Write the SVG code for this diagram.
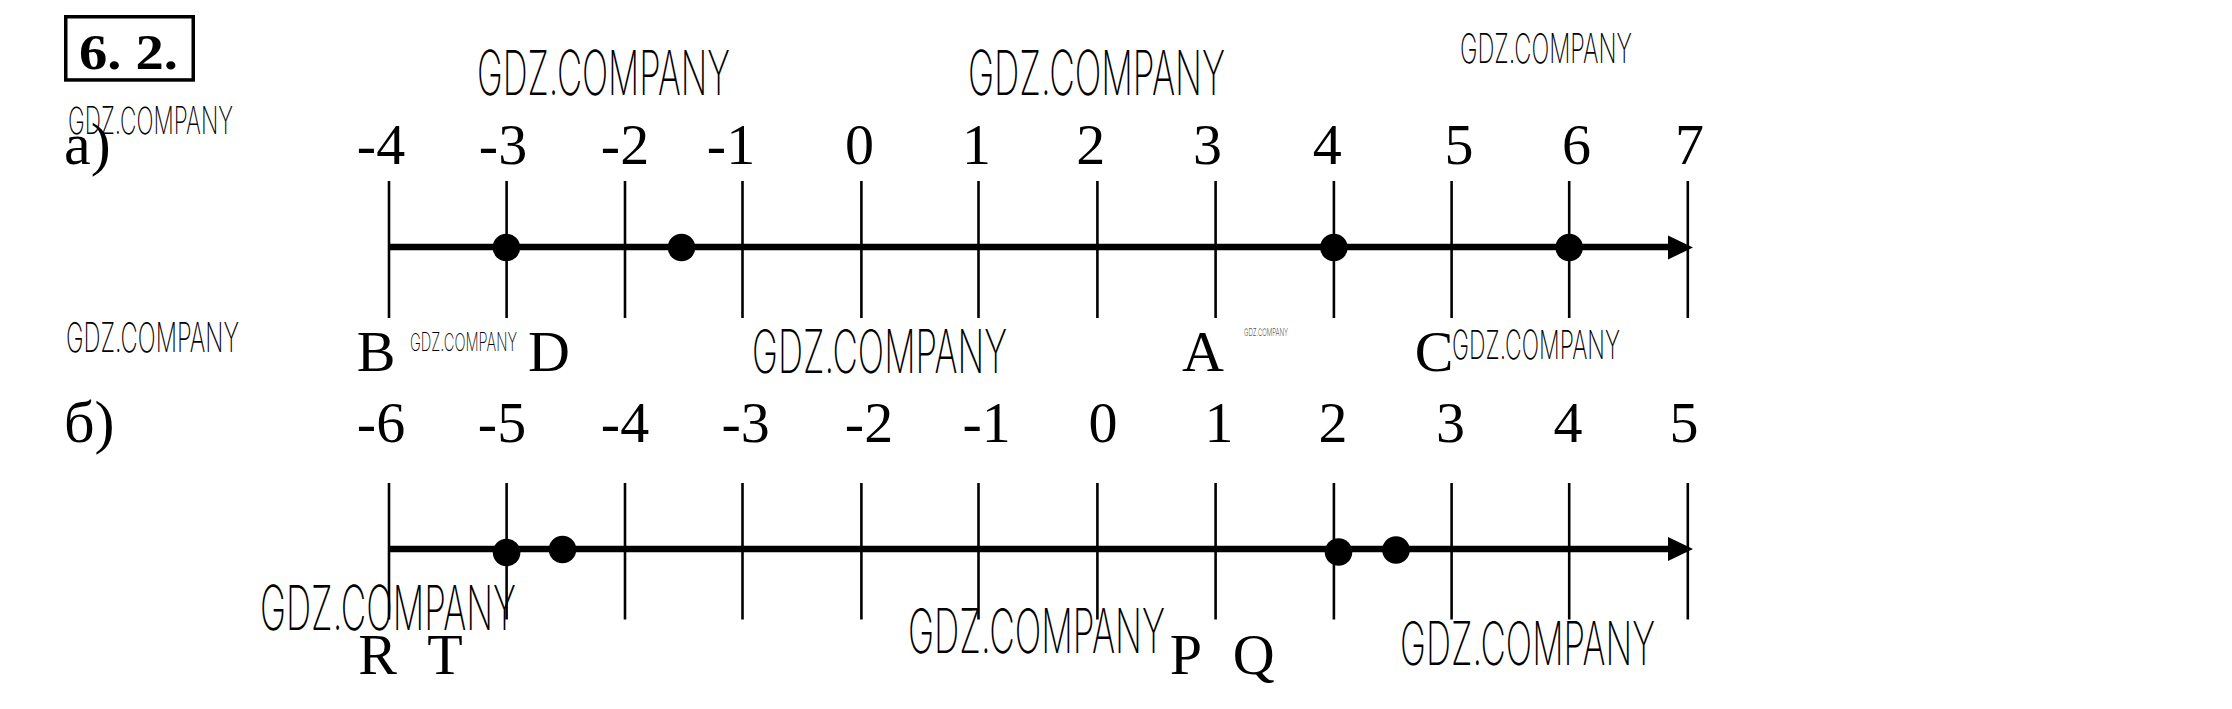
<svg xmlns="http://www.w3.org/2000/svg" width="2232" height="709" viewBox="0 0 2232 709">
<style>
.num{font-family:"Liberation Serif","Times New Roman",serif;font-size:58px;fill:#000;text-anchor:middle}
.lbl{font-family:"Liberation Serif","Times New Roman",serif;font-size:58px;fill:#000;text-anchor:middle}
.wm{font-family:"Inter","Lato","DejaVu Sans",sans-serif;font-weight:200;fill:#000}
.tick{stroke:#000;stroke-width:2.6}
.axis{stroke:#000;stroke-width:6.5}
.dot{fill:#000}
</style>
<rect width="2232" height="709" fill="#fff"/>

<g id="title">
<rect x="65.75" y="16.75" width="127.5" height="63.2" fill="none" stroke="#000" stroke-width="3.5"/>
<text x="79" y="68.5" font-family="Liberation Serif,serif" font-weight="bold" font-size="50" textLength="99" lengthAdjust="spacingAndGlyphs">6. 2.</text>
</g>

<g id="part-a-label"><text x="64" y="163.5" font-family="Liberation Serif,serif" font-size="60">а)</text></g>
<g id="part-b-label"><text x="64" y="442" font-family="Liberation Serif,serif" font-size="60">б)</text></g>

<g id="connectors">
<g id="axis-a">
<line class="axis" x1="389" y1="247" x2="1670" y2="247"/>
<polygon points="1668,235.5 1693,247.5 1668,259.5" fill="#000"/>
<line class="tick" x1="389" y1="181" x2="389" y2="318"/>
<line class="tick" x1="506.6" y1="181" x2="506.6" y2="318"/>
<line class="tick" x1="625" y1="181" x2="625" y2="318"/>
<line class="tick" x1="742.5" y1="181" x2="742.5" y2="318"/>
<line class="tick" x1="861.4" y1="181" x2="861.4" y2="318"/>
<line class="tick" x1="978.5" y1="181" x2="978.5" y2="318"/>
<line class="tick" x1="1097.4" y1="181" x2="1097.4" y2="318"/>
<line class="tick" x1="1215.6" y1="181" x2="1215.6" y2="318"/>
<line class="tick" x1="1333.9" y1="181" x2="1333.9" y2="318"/>
<line class="tick" x1="1451.6" y1="181" x2="1451.6" y2="318"/>
<line class="tick" x1="1569.2" y1="181" x2="1569.2" y2="318"/>
<line class="tick" x1="1687.8" y1="181" x2="1687.8" y2="318"/>
</g>
<g id="axis-b">
<line class="axis" x1="389" y1="549" x2="1670" y2="549"/>
<polygon points="1668,537 1693,549 1668,561" fill="#000"/>
<line class="tick" x1="389" y1="483" x2="389" y2="619.5"/>
<line class="tick" x1="506.6" y1="483" x2="506.6" y2="619.5"/>
<line class="tick" x1="625" y1="483" x2="625" y2="619.5"/>
<line class="tick" x1="742.5" y1="483" x2="742.5" y2="619.5"/>
<line class="tick" x1="861.4" y1="483" x2="861.4" y2="619.5"/>
<line class="tick" x1="978.5" y1="483" x2="978.5" y2="619.5"/>
<line class="tick" x1="1097.4" y1="483" x2="1097.4" y2="619.5"/>
<line class="tick" x1="1215.6" y1="483" x2="1215.6" y2="619.5"/>
<line class="tick" x1="1333.9" y1="483" x2="1333.9" y2="619.5"/>
<line class="tick" x1="1451.6" y1="483" x2="1451.6" y2="619.5"/>
<line class="tick" x1="1569.2" y1="483" x2="1569.2" y2="619.5"/>
<line class="tick" x1="1687.8" y1="483" x2="1687.8" y2="619.5"/>
</g>
</g>

<g id="numbers-a">
<text class="num" x="381" y="164">-4</text>
<text class="num" x="503" y="164">-3</text>
<text class="num" x="625" y="164">-2</text>
<text class="num" x="731" y="164">-1</text>
<text class="num" x="859.5" y="164">0</text>
<text class="num" x="976.5" y="164">1</text>
<text class="num" x="1090.7" y="164">2</text>
<text class="num" x="1207.5" y="164">3</text>
<text class="num" x="1327.3" y="164">4</text>
<text class="num" x="1459" y="164">5</text>
<text class="num" x="1576.4" y="164">6</text>
<text class="num" x="1689.5" y="164">7</text>
</g>
<g id="numbers-b">
<text class="num" x="381" y="442">-6</text>
<text class="num" x="502" y="442">-5</text>
<text class="num" x="625" y="442">-4</text>
<text class="num" x="745.6" y="442">-3</text>
<text class="num" x="869" y="442">-2</text>
<text class="num" x="986.6" y="442">-1</text>
<text class="num" x="1103" y="442">0</text>
<text class="num" x="1219" y="442">1</text>
<text class="num" x="1333" y="442">2</text>
<text class="num" x="1450.5" y="442">3</text>
<text class="num" x="1568" y="442">4</text>
<text class="num" x="1684" y="442">5</text>
</g>

<g id="point-B"><text class="lbl" x="376" y="370.5">B</text></g>
<g id="point-D"><circle class="dot" cx="506.4" cy="247.5" r="13.8"/><text class="lbl" x="549" y="370.5">D</text></g>
<g id="point-half"><circle class="dot" cx="681.5" cy="247.5" r="13.8"/></g>
<g id="point-A"><text class="lbl" x="1203" y="371">A</text></g>
<g id="point-4"><circle class="dot" cx="1333.9" cy="247.5" r="13.8"/></g>
<g id="point-C"><circle class="dot" cx="1569.2" cy="247.5" r="13.8"/><text class="lbl" x="1434" y="371">C</text></g>

<g id="point-R"><circle class="dot" cx="506.6" cy="552.5" r="13.8"/><text class="lbl" x="377.5" y="674">R</text></g>
<g id="point-T"><circle class="dot" cx="562.5" cy="549.5" r="13.8"/><text class="lbl" x="445" y="674">T</text></g>
<g id="point-P"><circle class="dot" cx="1338.5" cy="552" r="13.8"/><text class="lbl" x="1186" y="674">P</text></g>
<g id="point-Q"><circle class="dot" cx="1396" cy="550" r="13.8"/><text class="lbl" x="1253.6" y="674">Q</text></g>

<g id="watermarks">
<text class="wm" x="477" y="95" font-size="62" textLength="253" lengthAdjust="spacingAndGlyphs">GDZ.COMPANY</text>
<text class="wm" x="968" y="95" font-size="62" textLength="257" lengthAdjust="spacingAndGlyphs">GDZ.COMPANY</text>
<text class="wm" x="1460" y="63" font-size="41" textLength="172" lengthAdjust="spacingAndGlyphs">GDZ.COMPANY</text>
<text class="wm" x="68" y="134" font-size="37.5" textLength="165" lengthAdjust="spacingAndGlyphs">GDZ.COMPANY</text>
<text class="wm" x="66" y="352" font-size="41" textLength="173" lengthAdjust="spacingAndGlyphs">GDZ.COMPANY</text>
<text class="wm" x="410" y="351" font-size="25" textLength="107" lengthAdjust="spacingAndGlyphs">GDZ.COMPANY</text>
<text class="wm" x="752" y="373" font-size="60" textLength="255" lengthAdjust="spacingAndGlyphs">GDZ.COMPANY</text>
<text class="wm" x="1244" y="336" font-size="10" textLength="44" lengthAdjust="spacingAndGlyphs">GDZ.COMPANY</text>
<text class="wm" x="1452" y="359" font-size="40" textLength="168" lengthAdjust="spacingAndGlyphs">GDZ.COMPANY</text>
<text class="wm" x="260" y="630" font-size="62" textLength="256" lengthAdjust="spacingAndGlyphs">GDZ.COMPANY</text>
<text class="wm" x="908" y="653" font-size="61" textLength="257" lengthAdjust="spacingAndGlyphs">GDZ.COMPANY</text>
<text class="wm" x="1400" y="665" font-size="60" textLength="255" lengthAdjust="spacingAndGlyphs">GDZ.COMPANY</text>
</g>
</svg>
